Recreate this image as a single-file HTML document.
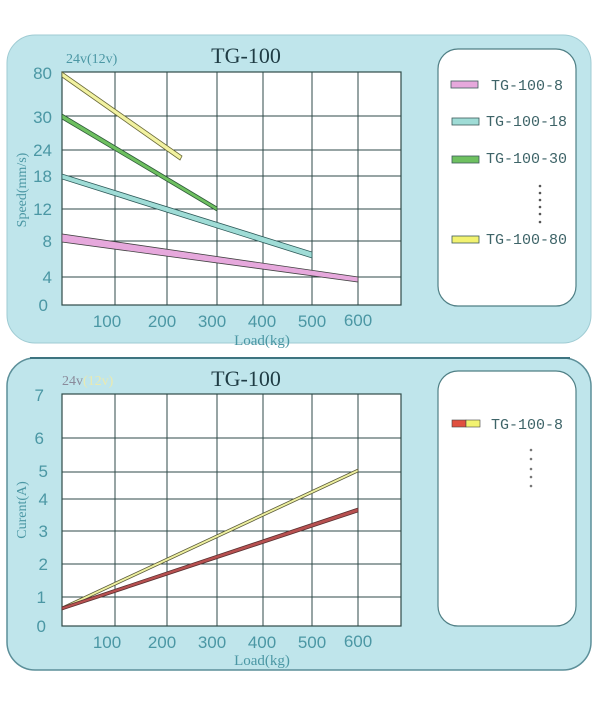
<!DOCTYPE html>
<html><head><style>
body{margin:0;background:#fff;width:600px;height:706px;overflow:hidden}
</style></head><body>
<svg width="600" height="706" xmlns="http://www.w3.org/2000/svg" font-family="Liberation Serif, serif">
<rect x="0" y="0" width="600" height="706" fill="#fff"/>
<!-- top panel -->
<rect x="7" y="35" width="584" height="308" rx="28" fill="#bfe5eb" stroke="#9fcbd3"/>
<rect x="7" y="358" width="584" height="312" rx="28" fill="#bfe5eb" stroke="#5c8f99" stroke-width="1.5"/>
<line x1="30" y1="358" x2="570" y2="358" stroke="#3e7480" stroke-width="2"/>
<!-- top plot -->
<rect x="62" y="72" width="339" height="233" fill="#fff" stroke="#2f4a48" stroke-width="1.2"/>
<g stroke="#2f4a48" stroke-width="1">
<line x1="115" y1="72" x2="115" y2="305"/><line x1="167" y1="72" x2="167" y2="305"/><line x1="217" y1="72" x2="217" y2="305"/><line x1="263" y1="72" x2="263" y2="305"/><line x1="312" y1="72" x2="312" y2="305"/><line x1="358" y1="72" x2="358" y2="305"/>
<line x1="62" y1="116" x2="401" y2="116"/><line x1="62" y1="150" x2="401" y2="150"/><line x1="62" y1="176" x2="401" y2="176"/><line x1="62" y1="209" x2="401" y2="209"/><line x1="62" y1="241" x2="401" y2="241"/><line x1="62" y1="277" x2="401" y2="277"/>
</g>
<g stroke-linecap="butt">
<polygon points="62,234 62,242 358,282 358,277" fill="#e6a8dc" stroke="#444" stroke-width="0.8"/>
<polygon points="62,174 62,179 312,258 312,252" fill="#9fdcd6" stroke="#2f5b5a" stroke-width="0.8"/>
<polygon points="62,114 62,119 217,211 217,207" fill="#6ec060" stroke="#2f5b3a" stroke-width="0.8"/>
<polygon points="62,72 62,77 180,160 182,156" fill="#f2f2a0" stroke="#6a6a3a" stroke-width="0.8"/>
</g>
<g fill="#4b97a4" font-size="17" font-family="Liberation Sans, sans-serif">
<text x="52" y="79" text-anchor="end">80</text><text x="52" y="123" text-anchor="end">30</text><text x="52" y="156" text-anchor="end">24</text><text x="52" y="182" text-anchor="end">18</text><text x="52" y="215" text-anchor="end">12</text><text x="52" y="247" text-anchor="end">8</text><text x="52" y="283" text-anchor="end">4</text><text x="48" y="311" text-anchor="end">0</text>
<text x="107" y="327" text-anchor="middle">100</text><text x="162" y="327" text-anchor="middle">200</text><text x="212" y="327" text-anchor="middle">300</text><text x="262" y="327" text-anchor="middle">400</text><text x="312" y="327" text-anchor="middle">500</text><text x="358" y="326" text-anchor="middle">600</text>
</g>
<text x="262" y="345" fill="#4b97a4" font-size="15" text-anchor="middle">Load(kg)</text>
<text x="26" y="190" fill="#4b97a4" font-size="14" text-anchor="middle" transform="rotate(-90 26 190)">Speed(mm/s)</text>
<text x="66" y="63" fill="#4b97a4" font-size="14">24v(12v)</text>
<text x="246" y="63" fill="#1f3c44" font-size="22" text-anchor="middle">TG-100</text>
<!-- top legend -->
<rect x="438" y="49" width="138" height="257" rx="20" fill="#fff" stroke="#4f7f85" stroke-width="1.2"/>
<g stroke="#3c5a5a" stroke-width="0.8">
<rect x="451" y="81" width="27" height="7" fill="#e6a8dc"/>
<rect x="452" y="118" width="27" height="7" fill="#9fdcd6"/>
<rect x="452" y="156" width="27" height="7" fill="#6ec060"/>
<rect x="452" y="236" width="27" height="7" fill="#f2f270"/>
</g>
<g fill="#3e6468" font-size="15" font-family="Liberation Mono, monospace">
<text x="491" y="90">TG-100-8</text><text x="486" y="126">TG-100-18</text><text x="486" y="163">TG-100-30</text><text x="486" y="244">TG-100-80</text>
</g>
<g fill="#555"><circle cx="540" cy="186" r="1.3"/><circle cx="540" cy="193" r="1.3"/><circle cx="540" cy="200" r="1.3"/><circle cx="540" cy="207" r="1.3"/><circle cx="540" cy="214" r="1.3"/><circle cx="540" cy="222" r="1.3"/></g>

<!-- bottom plot -->
<rect x="62" y="394" width="339" height="232" fill="#fff" stroke="#2f4a48" stroke-width="1.2"/>
<g stroke="#2f4a48" stroke-width="1">
<line x1="115" y1="394" x2="115" y2="626"/><line x1="167" y1="394" x2="167" y2="626"/><line x1="217" y1="394" x2="217" y2="626"/><line x1="263" y1="394" x2="263" y2="626"/><line x1="312" y1="394" x2="312" y2="626"/><line x1="358" y1="394" x2="358" y2="626"/>
<line x1="62" y1="438" x2="401" y2="438"/><line x1="62" y1="472" x2="401" y2="472"/><line x1="62" y1="499" x2="401" y2="499"/><line x1="62" y1="531" x2="401" y2="531"/><line x1="62" y1="564" x2="401" y2="564"/><line x1="62" y1="597" x2="401" y2="597"/>
</g>
<polygon points="62,607 62,610 358,472 358,469" fill="#eef0a0" stroke="#5a5a3a" stroke-width="0.8"/>
<polygon points="62,607 62,610 358,512 358,508" fill="#b85050" stroke="#5a3030" stroke-width="0.8"/>
<g fill="#4b97a4" font-size="17" font-family="Liberation Sans, sans-serif">
<text x="44" y="401" text-anchor="end">7</text><text x="44" y="444" text-anchor="end">6</text><text x="48" y="477" text-anchor="end">5</text><text x="48" y="505" text-anchor="end">4</text><text x="48" y="537" text-anchor="end">3</text><text x="48" y="570" text-anchor="end">2</text><text x="46" y="603" text-anchor="end">1</text><text x="46" y="632" text-anchor="end">0</text>
<text x="107" y="648" text-anchor="middle">100</text><text x="162" y="648" text-anchor="middle">200</text><text x="212" y="648" text-anchor="middle">300</text><text x="262" y="648" text-anchor="middle">400</text><text x="312" y="648" text-anchor="middle">500</text><text x="358" y="647" text-anchor="middle">600</text>
</g>
<text x="262" y="665" fill="#4b97a4" font-size="15" text-anchor="middle">Load(kg)</text>
<text x="26" y="510" fill="#4b97a4" font-size="14" text-anchor="middle" transform="rotate(-90 26 510)">Curent(A)</text>
<text x="62" y="385" fill="#8a8a9a" font-size="14">24v<tspan fill="#eaeab0">(12v)</tspan></text>
<text x="246" y="386" fill="#1f3c44" font-size="22" text-anchor="middle">TG-100</text>
<!-- bottom legend -->
<rect x="438" y="371" width="138" height="255" rx="20" fill="#fff" stroke="#4f7f85" stroke-width="1.2"/>
<rect x="452" y="420" width="14" height="7" fill="#e05040" stroke="#444" stroke-width="0.6"/>
<rect x="466" y="420" width="14" height="7" fill="#f2f270" stroke="#444" stroke-width="0.6"/>
<text x="491" y="429" fill="#3e6468" font-size="15" font-family="Liberation Mono, monospace">TG-100-8</text>
<g fill="#777"><circle cx="531" cy="450" r="1.3"/><circle cx="531" cy="459" r="1.3"/><circle cx="531" cy="469" r="1.3"/><circle cx="531" cy="477" r="1.3"/><circle cx="531" cy="486" r="1.3"/></g>
</svg>
</body></html>
